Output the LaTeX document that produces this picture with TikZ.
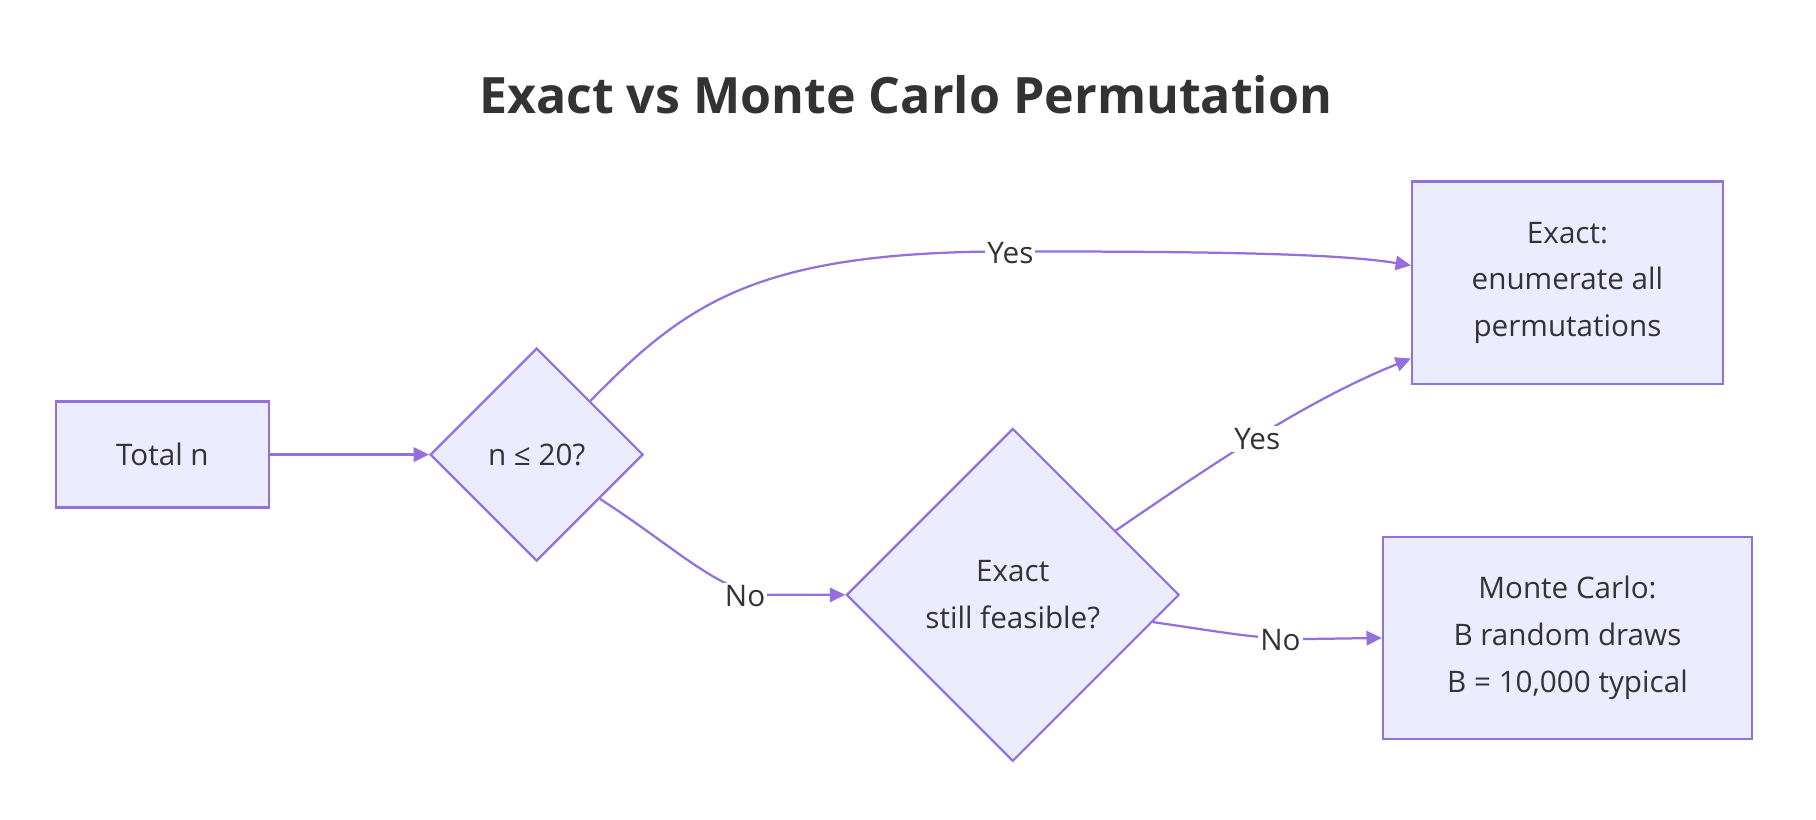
\documentclass[tikz,border=0pt]{standalone}
\usepackage{fontspec}
\setmainfont{Open Sans}
\usetikzlibrary{shapes.geometric,arrows.meta}
\definecolor{nodefill}{HTML}{ECECFF}
\definecolor{nodeline}{HTML}{9370DB}
\definecolor{txt}{HTML}{333333}
\tikzset{>={Triangle[length=7.5pt,width=7pt]}}
\tikzset{
  box/.style={draw=nodeline, fill=nodefill, line width=1.1pt, text=txt, align=center, inner sep=0pt, font=\fontsize{14.5}{22.8}\selectfont},
  decision/.style={box, diamond, aspect=1},
  link/.style={draw=nodeline, line width=1.1pt, ->},
  tag/.style={fill=white, text=txt, inner sep=1pt, font=\fontsize{14.5}{17}\selectfont}
}

\begin{document}
\begin{tikzpicture}[x=0.02cm, y=-0.02cm]
\useasboundingbox (0,0) rectangle (1560,704.4);
\node[text=txt, font=\fontsize{24.5}{28}\selectfont\bfseries] (title) at (778,81) {Exact vs Monte Carlo Permutation};
\node[box, minimum width=3.66cm, minimum height=1.82cm] (T) at (139.5,390.5) {Total n};
\node[decision, minimum width=3.66cm, minimum height=3.66cm] (S) at (461,390.5) {n ≤ 20?};
\node[decision, minimum width=5.72cm, minimum height=5.72cm] (F) at (870,511) {Exact\\still feasible?};
\node[box, minimum width=5.34cm, minimum height=3.48cm] (E) at (1346.5,243) {Exact:\\enumerate all\\permutations};
\node[box, minimum width=6.34cm, minimum height=3.48cm] (M) at (1346.5,548) {Monte Carlo:\\B random draws\\B = 10,000 typical};
\draw[link] (T) -- (S);
\draw[link] (S.north east) .. controls (590,260) and (650,216) .. (868,216) .. controls (1050,216) and (1150,218) .. ([yshift=0.3cm]E.west);
\draw[link] (S.-35) .. controls (580,470) and (620,511) .. (660,511) -- (F.west);
\draw[link] (F.32) .. controls (1040,400) and (1120,345) .. ([yshift=-1.3cm]E.west);
\draw[link] (F.-11) .. controls (1050,543) and (1080,549) .. (1120,549) -- (M.west);
\node[tag] (y1) at (868,217) {Yes};
\node[tag] (n1) at (640,512) {No};
\node[tag] (y2) at (1080,377) {Yes};
\node[tag] (n2) at (1100,550) {No};
\end{tikzpicture}
\end{document}
